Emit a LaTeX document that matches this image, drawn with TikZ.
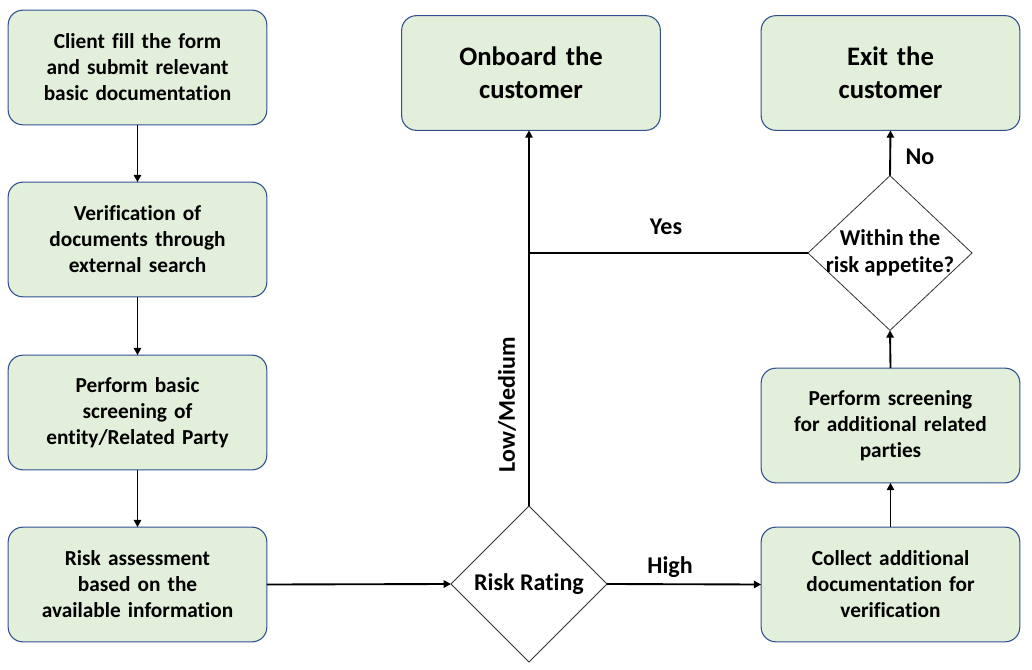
\documentclass[tikz,border=0pt]{standalone}
\usepackage{fontspec}
\setmainfont{Carlito}[Ligatures=NoCommon]
\usetikzlibrary{shapes.geometric,arrows.meta}
\definecolor{boxfill}{RGB}{226,239,218}
\definecolor{boxline}{RGB}{47,82,143}
\tikzset{
  procbox/.style={draw=boxline, fill=boxfill, line width=0.8pt, rounded corners=11pt,
    minimum width=194pt, minimum height=86pt, inner sep=0pt, outer sep=0pt,
    text width=185pt, align=center, font=\fontsize{16pt}{19.5pt}\selectfont\bfseries},
  bigbox/.style={procbox, font=\fontsize{20pt}{24.75pt}\selectfont\bfseries},
  decision/.style={draw=black!80, fill=white, diamond, line width=0.6pt, inner sep=0pt, outer sep=0pt,
    align=center},
  flow/.style={line width=1.4pt, -{Triangle[length=5.5pt,width=5.5pt]}},
  plain/.style={line width=1.4pt},
  lbl/.style={font=\fontsize{18pt}{20pt}\selectfont\bfseries, inner sep=0pt}
}
\begin{document}
\begin{tikzpicture}[x=0.75pt,y=-0.75pt]
\useasboundingbox (0,0) rectangle (1032,670);
\node[procbox] (b1) at (137.5,67.5) {\rule{0pt}{4pt}Client fill the form\\and submit relevant\\basic documentation};
\node[procbox] (b2) at (137.5,239.5) {\rule{0pt}{4pt}Verification of\\documents through\\external search};
\node[procbox] (b3) at (137.5,412.5) {\rule{0pt}{4pt}Perform basic\\screening of\\entity/Related Party};
\node[procbox] (b4) at (137.5,584.5) {\rule{0pt}{4pt}Risk assessment\\based on the\\available information};
\node[bigbox] (onb) at (531,73) {Onboard the\\customer};
\node[bigbox] (exit) at (890.5,73) {Exit the\\customer};
\node[procbox] (scr) at (890.5,425.5) {\rule{0pt}{4pt}Perform screening\\for additional related\\parties};
\node[procbox] (col) at (890.5,584.5) {\rule{0pt}{4pt}Collect additional\\documentation for\\verification};
\node[decision, minimum width=117pt, minimum height=117pt, font=\fontsize{18pt}{20pt}\selectfont\bfseries] (rr) at (529,584) {Risk Rating};
\node[decision, minimum width=123pt, minimum height=116pt, inner sep=-8pt, font=\fontsize{17pt}{20.5pt}\selectfont\bfseries] (wr) at (890,253) {Within the\\risk appetite?};
\draw[flow] (b1.south) -- (b2.north);
\draw[flow] (b2.south) -- (b3.north);
\draw[flow] (b3.south) -- (b4.north);
\draw[flow] (b4.east) -- (rr.west);
\draw[flow] (rr.east) -- (col.west);
\draw[flow] (rr.north) -- (rr.north |- onb.south);
\coordinate (yj) at (rr.north |- wr.west);
\draw[plain] (wr.west) -- (yj);
\draw[flow] (col.north) -- (scr.south);
\draw[flow] (scr.north) -- (wr.south);
\draw[flow] (wr.north) -- (exit.south);
\node[lbl] (high) at (670,567) {High};
\node[lbl] (yes) at (666,227) {Yes};
\node[lbl] (no) at (920,157) {No};
\node[lbl, rotate=90] (lm) at (507,405) {Low/Medium};
\end{tikzpicture}
\end{document}
